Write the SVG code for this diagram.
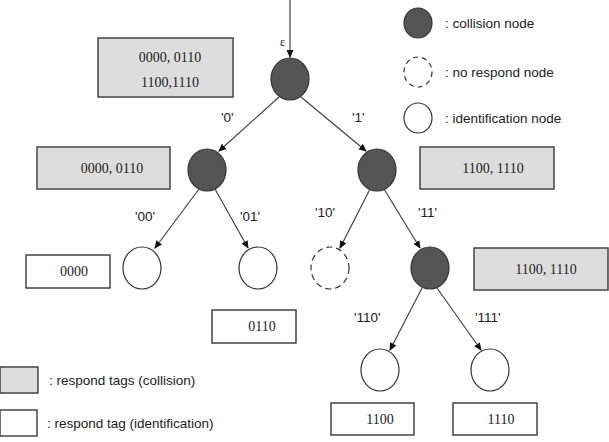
<svg xmlns="http://www.w3.org/2000/svg" width="609" height="442" viewBox="0 0 609 442">
<defs>
<marker id="ah" markerWidth="8" markerHeight="8" refX="7" refY="4" orient="auto" markerUnits="userSpaceOnUse"><path d="M0,0.5 L8,4 L0,7.5 z" fill="#111"/></marker>
<style>
.c{fill:#555;stroke:#333;stroke-width:1.2}
.w{fill:#fff;stroke:#333;stroke-width:1.2}
.d{fill:#fff;stroke:#333;stroke-width:1.2;stroke-dasharray:6,4}
.g{fill:#ddd;stroke:#444;stroke-width:1.5}
.b{fill:#fff;stroke:#444;stroke-width:1.5}
.t{font-family:"Liberation Serif",serif;font-size:14px;fill:#222;text-anchor:middle}
.l{font-family:"Liberation Sans",sans-serif;font-size:13.5px;fill:#222}
.e{stroke:#444;stroke-width:1.2;fill:none;marker-end:url(#ah)}
</style>
</defs>
<rect width="609" height="442" fill="#fff"/>
<g id="connectors">
<line class="e" x1="290" y1="0" x2="290" y2="57"/>
<line class="e" x1="279" y1="97" x2="219" y2="151"/>
<line class="e" x1="301" y1="97" x2="366" y2="151"/>
<line class="e" x1="199" y1="189" x2="155" y2="248"/>
<line class="e" x1="215" y1="189" x2="248" y2="248"/>
<line class="e" x1="370" y1="189" x2="340" y2="248"/>
<line class="e" x1="384" y1="189" x2="420" y2="248"/>
<line class="e" x1="422" y1="288" x2="390" y2="350"/>
<line class="e" x1="437" y1="288" x2="481" y2="350"/>
</g>
<g id="labels" class="l">
<text x="280" y="46" font-family="Liberation Serif" font-size="12">ε</text>
<text x="221" y="122">'0'</text>
<text x="352" y="122">'1'</text>
<text x="135" y="221">'00'</text>
<text x="240" y="221">'01'</text>
<text x="315" y="217">'10'</text>
<text x="418" y="217">'11'</text>
<text x="354" y="322">'110'</text>
<text x="475" y="322">'111'</text>
</g>
<g id="root"><ellipse class="c" cx="290" cy="79" rx="19" ry="21"/></g>
<g id="n0"><ellipse class="c" cx="207" cy="170" rx="19" ry="21"/></g>
<g id="n1"><ellipse class="c" cx="377" cy="170" rx="19" ry="21"/></g>
<g id="n00"><ellipse class="w" cx="142" cy="268" rx="19" ry="21"/></g>
<g id="n01"><ellipse class="w" cx="258" cy="268" rx="19" ry="21"/></g>
<g id="n10"><ellipse class="d" cx="330" cy="268" rx="19" ry="21"/></g>
<g id="n11"><ellipse class="c" cx="430" cy="268" rx="19" ry="21"/></g>
<g id="n110"><ellipse class="w" cx="380" cy="370" rx="19" ry="21"/></g>
<g id="n111"><ellipse class="w" cx="490" cy="370" rx="19" ry="21"/></g>
<g id="box-root"><rect class="g" x="98" y="38" width="135" height="59"/><text class="t" x="170" y="62">0000, 0110</text><text class="t" x="170" y="87">1100,1110</text></g>
<g id="box-0"><rect class="g" x="37" y="147" width="133" height="42"/><text class="t" x="112" y="173">0000, 0110</text></g>
<g id="box-1"><rect class="g" x="420" y="147" width="134" height="42"/><text class="t" x="493" y="173">1100, 1110</text></g>
<g id="box-11"><rect class="g" x="474" y="248" width="134" height="42"/><text class="t" x="546" y="274">1100, 1110</text></g>
<g id="box-00"><rect class="b" x="26" y="255" width="84" height="33"/><text class="t" x="74" y="276">0000</text></g>
<g id="box-01"><rect class="b" x="212" y="310" width="84" height="33"/><text class="t" x="262" y="331">0110</text></g>
<g id="box-110"><rect class="b" x="331" y="403" width="83" height="32"/><text class="t" x="380" y="424">1100</text></g>
<g id="box-111"><rect class="b" x="453" y="403" width="84" height="32"/><text class="t" x="501" y="424">1110</text></g>
<g id="legend">
<ellipse class="c" cx="418" cy="23" rx="14" ry="15"/>
<text class="l" x="445" y="28">: collision node</text>
<ellipse class="d" cx="418" cy="72" rx="14" ry="15" style="stroke-dasharray:5,4"/>
<text class="l" x="445" y="77">: no respond node</text>
<ellipse class="w" cx="418" cy="118" rx="14" ry="15"/>
<text class="l" x="445" y="123">: identification node</text>
<rect class="g" x="0" y="367" width="38" height="26"/>
<text class="l" x="49" y="385">: respond tags (collision)</text>
<rect class="b" x="0" y="410" width="37" height="26"/>
<text class="l" x="47" y="428">: respond tag (identification)</text>
</g>
</svg>
